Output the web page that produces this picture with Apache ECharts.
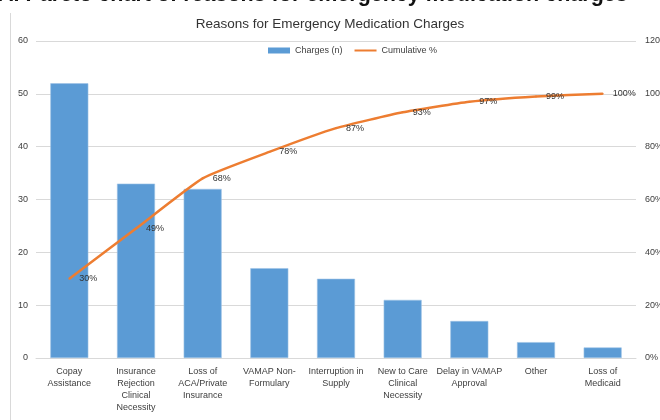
<!DOCTYPE html>
<html>
<head>
<meta charset="utf-8">
<script src="https://cdn.jsdelivr.net/npm/echarts@6/dist/echarts.min.js"></script>
<style>
html,body{margin:0;padding:0;background:#fff;overflow:hidden;}
#wrap{position:relative;width:660px;height:420px;overflow:hidden;}
#head{position:absolute;left:-2px;top:-18px;font:bold 21.5px "Liberation Sans",Arial,sans-serif;color:#111;white-space:nowrap;}
#border{position:absolute;left:10px;top:13px;width:1px;height:420px;background:#d9d9d9;}
#main{position:absolute;left:0;top:0;width:660px;height:420px;}
</style>
</head>
<body>
<div id="wrap">
<div id="main"></div>
<div id="border"></div>
<div id="head">A. Pareto chart of reasons for emergency medication charges</div>
</div>
<script>
const categories = ["Copay\nAssistance","Insurance\nRejection\nClinical\nNecessity","Loss of\nACA/Private\nInsurance","VAMAP Non-\nFormulary","Interruption in\nSupply","New to Care\nClinical\nNecessity","Delay in VAMAP\nApproval","Other","Loss of\nMedicaid"];
const charges = [52, 33, 32, 17, 15, 11, 7, 3, 2];
const cumulativePct = [30, 49, 68, 78, 87, 93, 97, 99, 100];
const leftTicks = [0, 10, 20, 30, 40, 50, 60];
const rightTicks = [0, 20, 40, 60, 80, 100, 120];

const chart = echarts.init(document.getElementById('main'), null, {renderer:'canvas'});
const font = '"Liberation Sans", Arial, sans-serif';
chart.setOption({
  animation:false,
  textStyle:{fontFamily:font},
  title:{text:'Reasons for Emergency Medication Charges',left:'center',top:12,
    textStyle:{fontSize:13.5,fontWeight:'normal',color:'#333',fontFamily:font}},
  legend:{top:41,left:263,itemWidth:22,itemHeight:6,itemGap:12,
    textStyle:{fontSize:9,color:'#404040'},
    data:[{name:'Charges (n)',icon:'rect',itemStyle:{borderWidth:0}},
          {name:'Cumulative %',icon:'path://M0,4L22,4L22,6L0,6Z',itemStyle:{color:'#ED7D31',opacity:1}}]},
  grid:{left:36,right:24,top:41,bottom:62,outerBoundsMode:'none',containLabel:false},
  xAxis:{type:'category',data:categories,
    axisLine:{lineStyle:{color:'#d9d9d9',width:1}},axisTick:{show:false},
    axisLabel:{fontSize:9,color:'#404040',margin:8,lineHeight:12,interval:0}},
  yAxis:[
    {type:'value',min:leftTicks[0],max:leftTicks[leftTicks.length-1],interval:10,
      axisLine:{show:false},axisTick:{show:false},
      splitLine:{lineStyle:{color:'#d9d9d9'}},
      axisLabel:{fontSize:9,color:'#404040',margin:8}},
    {type:'value',min:rightTicks[0],max:rightTicks[rightTicks.length-1],interval:20,
      axisLine:{show:false},axisTick:{show:false},splitLine:{show:false},
      axisLabel:{fontSize:9,color:'#404040',margin:9,formatter:'{value}%'}}
  ],
  series:[
    {name:'Charges (n)',type:'bar',data:charges,barCategoryGap:'43%',
      itemStyle:{color:'#5B9BD5',borderColor:'#9DC3E6',borderWidth:0.6}},
    {name:'Cumulative %',type:'line',yAxisIndex:1,data:cumulativePct,
      symbol:'circle',symbolSize:2,showSymbol:true,smooth:0.15,
      lineStyle:{color:'#ED7D31',width:2.5},itemStyle:{color:'#ED7D31'},
      labelLayout:{hideOverlap:false},
      label:{show:true,position:'right',distance:9,offset:[0,2.5],formatter:'{c}%',fontSize:9,color:'#333'}}
  ]
});
</script>
</body>
</html>
